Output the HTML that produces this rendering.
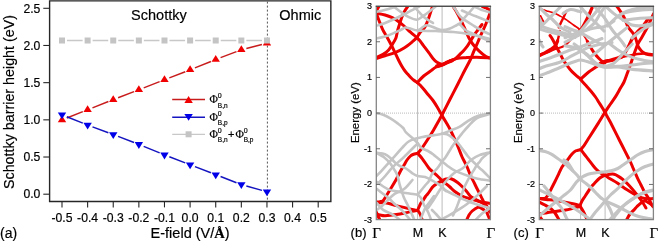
<!DOCTYPE html>
<html><head><meta charset="utf-8"><style>
html,body{margin:0;padding:0;background:#fff;}
body{width:658px;height:241px;overflow:hidden;}
svg{display:block;will-change:transform;}
text{stroke:#000;stroke-width:0.18px;}
</style></head><body>
<svg width="658" height="241" viewBox="0 0 658 241">
<rect width="658" height="241" fill="#fff"/>
<path d="M49.6 0.85H330.85V201.45H49.6Z" fill="none" stroke="#262626" stroke-width="1.4"/>
<line x1="43.3" x2="49.6" y1="194.20" y2="194.20" stroke="#262626" stroke-width="1.1"/>
<text x="40.4" y="198.40" text-anchor="end" font-size="12.2" font-family="Liberation Sans, sans-serif" fill="#000">0.0</text>
<line x1="43.3" x2="49.6" y1="157.02" y2="157.02" stroke="#262626" stroke-width="1.1"/>
<text x="40.4" y="161.22" text-anchor="end" font-size="12.2" font-family="Liberation Sans, sans-serif" fill="#000">0.5</text>
<line x1="43.3" x2="49.6" y1="119.84" y2="119.84" stroke="#262626" stroke-width="1.1"/>
<text x="40.4" y="124.04" text-anchor="end" font-size="12.2" font-family="Liberation Sans, sans-serif" fill="#000">1.0</text>
<line x1="43.3" x2="49.6" y1="82.66" y2="82.66" stroke="#262626" stroke-width="1.1"/>
<text x="40.4" y="86.86" text-anchor="end" font-size="12.2" font-family="Liberation Sans, sans-serif" fill="#000">1.5</text>
<line x1="43.3" x2="49.6" y1="45.48" y2="45.48" stroke="#262626" stroke-width="1.1"/>
<text x="40.4" y="49.68" text-anchor="end" font-size="12.2" font-family="Liberation Sans, sans-serif" fill="#000">2.0</text>
<line x1="43.3" x2="49.6" y1="8.30" y2="8.30" stroke="#262626" stroke-width="1.1"/>
<text x="40.4" y="12.50" text-anchor="end" font-size="12.2" font-family="Liberation Sans, sans-serif" fill="#000">2.5</text>
<line x1="62.00" x2="62.00" y1="201.45" y2="207.4" stroke="#262626" stroke-width="1.1"/>
<text x="62.00" y="222" text-anchor="middle" font-size="12.2" font-family="Liberation Sans, sans-serif" fill="#000">-0.5</text>
<line x1="87.62" x2="87.62" y1="201.45" y2="207.4" stroke="#262626" stroke-width="1.1"/>
<text x="87.62" y="222" text-anchor="middle" font-size="12.2" font-family="Liberation Sans, sans-serif" fill="#000">-0.4</text>
<line x1="113.24" x2="113.24" y1="201.45" y2="207.4" stroke="#262626" stroke-width="1.1"/>
<text x="113.24" y="222" text-anchor="middle" font-size="12.2" font-family="Liberation Sans, sans-serif" fill="#000">-0.3</text>
<line x1="138.86" x2="138.86" y1="201.45" y2="207.4" stroke="#262626" stroke-width="1.1"/>
<text x="138.86" y="222" text-anchor="middle" font-size="12.2" font-family="Liberation Sans, sans-serif" fill="#000">-0.2</text>
<line x1="164.48" x2="164.48" y1="201.45" y2="207.4" stroke="#262626" stroke-width="1.1"/>
<text x="164.48" y="222" text-anchor="middle" font-size="12.2" font-family="Liberation Sans, sans-serif" fill="#000">-0.1</text>
<line x1="190.10" x2="190.10" y1="201.45" y2="207.4" stroke="#262626" stroke-width="1.1"/>
<text x="190.10" y="222" text-anchor="middle" font-size="12.2" font-family="Liberation Sans, sans-serif" fill="#000">0.0</text>
<line x1="215.72" x2="215.72" y1="201.45" y2="207.4" stroke="#262626" stroke-width="1.1"/>
<text x="215.72" y="222" text-anchor="middle" font-size="12.2" font-family="Liberation Sans, sans-serif" fill="#000">0.1</text>
<line x1="241.34" x2="241.34" y1="201.45" y2="207.4" stroke="#262626" stroke-width="1.1"/>
<text x="241.34" y="222" text-anchor="middle" font-size="12.2" font-family="Liberation Sans, sans-serif" fill="#000">0.2</text>
<line x1="266.96" x2="266.96" y1="201.45" y2="207.4" stroke="#262626" stroke-width="1.1"/>
<text x="266.96" y="222" text-anchor="middle" font-size="12.2" font-family="Liberation Sans, sans-serif" fill="#000">0.3</text>
<line x1="292.58" x2="292.58" y1="201.45" y2="207.4" stroke="#262626" stroke-width="1.1"/>
<text x="292.58" y="222" text-anchor="middle" font-size="12.2" font-family="Liberation Sans, sans-serif" fill="#000">0.4</text>
<line x1="318.20" x2="318.20" y1="201.45" y2="207.4" stroke="#262626" stroke-width="1.1"/>
<text x="318.20" y="222" text-anchor="middle" font-size="12.2" font-family="Liberation Sans, sans-serif" fill="#000">0.5</text>
<text transform="translate(13.7 102) rotate(-90)" text-anchor="middle" font-size="14.3" font-family="Liberation Sans, sans-serif" fill="#000">Schottky barrier height (eV)</text>
<text x="190.1" y="237.8" text-anchor="middle" font-size="14.5" font-family="Liberation Sans, sans-serif" fill="#000">E-field (V/<tspan font-family="Liberation Serif, serif" font-weight="bold">Å</tspan>)</text>
<text x="0" y="237.7" font-size="14" font-family="Liberation Sans, sans-serif" fill="#000">(a)</text>
<text x="131.1" y="19.6" font-size="14.5" font-family="Liberation Sans, sans-serif" fill="#000">Schottky</text>
<text x="279.3" y="19.5" font-size="14.5" font-family="Liberation Sans, sans-serif" fill="#000">Ohmic</text>
<line x1="267.4" x2="267.4" y1="1.6" y2="200.5" stroke="#555" stroke-width="1" stroke-dasharray="2 2"/>
<path d="M66.83 117.98L82.79 111.67M92.46 107.84L108.40 101.56M118.09 97.77L134.01 91.58M143.71 87.83L159.63 81.67M169.32 77.91L185.26 71.69M194.92 67.86L210.90 61.44M220.58 57.66L236.48 51.64M246.37 48.48L261.93 44.42" stroke="#c81c1c" stroke-width="1.5" fill="none"/>
<polygon points="62.00,115.40 57.80,122.20 66.20,122.20" fill="#f00000"/>
<polygon points="87.62,105.25 83.42,112.05 91.82,112.05" fill="#f00000"/>
<polygon points="113.24,95.15 109.04,101.95 117.44,101.95" fill="#f00000"/>
<polygon points="138.86,85.20 134.66,92.00 143.06,92.00" fill="#f00000"/>
<polygon points="164.48,75.30 160.28,82.10 168.68,82.10" fill="#f00000"/>
<polygon points="190.10,65.30 185.90,72.10 194.30,72.10" fill="#f00000"/>
<polygon points="215.72,55.00 211.52,61.80 219.92,61.80" fill="#f00000"/>
<polygon points="241.34,45.30 237.14,52.10 245.54,52.10" fill="#f00000"/>
<polygon points="266.96,38.60 262.76,45.40 271.16,45.40" fill="#f00000"/>
<path d="M66.82 116.74L82.80 123.16M92.50 126.89L108.36 132.71M118.09 136.37L134.01 142.53M143.67 146.37L159.67 152.93M169.34 156.76L185.24 162.84M194.94 166.59L210.88 172.81M220.57 176.57L236.49 182.73M246.35 186.01L261.95 190.39" stroke="#1414c0" stroke-width="1.5" fill="none"/>
<polygon points="57.80,112.50 66.20,112.50 62.00,119.30" fill="#0000e8"/>
<polygon points="83.42,122.80 91.82,122.80 87.62,129.60" fill="#0000e8"/>
<polygon points="109.04,132.20 117.44,132.20 113.24,139.00" fill="#0000e8"/>
<polygon points="134.66,142.10 143.06,142.10 138.86,148.90" fill="#0000e8"/>
<polygon points="160.28,152.60 168.68,152.60 164.48,159.40" fill="#0000e8"/>
<polygon points="185.90,162.40 194.30,162.40 190.10,169.20" fill="#0000e8"/>
<polygon points="211.52,172.40 219.92,172.40 215.72,179.20" fill="#0000e8"/>
<polygon points="237.14,182.30 245.54,182.30 241.34,189.10" fill="#0000e8"/>
<polygon points="262.76,189.50 271.16,189.50 266.96,196.30" fill="#0000e8"/>
<path d="M67.00 40.50L82.62 40.50M92.62 40.50L108.24 40.50M118.24 40.50L133.86 40.50M143.86 40.50L159.48 40.50M169.48 40.50L185.10 40.50M195.10 40.50L210.72 40.50M220.72 40.50L236.34 40.50M246.34 40.50L261.96 40.50" stroke="#c8c8c8" stroke-width="1.3" fill="none"/>
<rect x="59.00" y="37.50" width="6" height="6" fill="#c4c4c4"/>
<rect x="84.62" y="37.50" width="6" height="6" fill="#c4c4c4"/>
<rect x="110.24" y="37.50" width="6" height="6" fill="#c4c4c4"/>
<rect x="135.86" y="37.50" width="6" height="6" fill="#c4c4c4"/>
<rect x="161.48" y="37.50" width="6" height="6" fill="#c4c4c4"/>
<rect x="187.10" y="37.50" width="6" height="6" fill="#c4c4c4"/>
<rect x="212.72" y="37.50" width="6" height="6" fill="#c4c4c4"/>
<rect x="238.34" y="37.50" width="6" height="6" fill="#c4c4c4"/>
<rect x="263.96" y="37.50" width="6" height="6" fill="#c4c4c4"/>
<line x1="172.2" x2="205" y1="99.5" y2="99.5" stroke="#c81c1c" stroke-width="1.5"/>
<polygon points="188.60,96.10 184.40,102.90 192.80,102.90" fill="#f00000"/>
<line x1="172.2" x2="205" y1="117.3" y2="117.3" stroke="#1414c0" stroke-width="1.5"/>
<polygon points="184.40,113.90 192.80,113.90 188.60,120.70" fill="#0000e8"/>
<line x1="172.2" x2="205" y1="134.3" y2="134.3" stroke="#c8c8c8" stroke-width="1.3"/>
<rect x="185.6" y="131.3" width="6" height="6" fill="#c4c4c4"/>
<text x="209.6" y="103.1" font-size="11.5" font-family="Liberation Serif, serif" fill="#000">Φ</text><text x="217.79999999999998" y="98.1" font-size="7" font-family="Liberation Sans, sans-serif" fill="#000">0</text><text x="217.79999999999998" y="107.5" font-size="6.5" font-family="Liberation Sans, sans-serif" fill="#000">B,n</text>
<text x="209.6" y="120.9" font-size="11.5" font-family="Liberation Serif, serif" fill="#000">Φ</text><text x="217.79999999999998" y="115.9" font-size="7" font-family="Liberation Sans, sans-serif" fill="#000">0</text><text x="217.79999999999998" y="125.30000000000001" font-size="6.5" font-family="Liberation Sans, sans-serif" fill="#000">B,p</text>
<text x="209.6" y="137.9" font-size="11.5" font-family="Liberation Serif, serif" fill="#000">Φ</text><text x="217.79999999999998" y="132.9" font-size="7" font-family="Liberation Sans, sans-serif" fill="#000">0</text><text x="217.79999999999998" y="142.3" font-size="6.5" font-family="Liberation Sans, sans-serif" fill="#000">B,n</text>
<text x="228" y="137.5" font-size="11" font-family="Liberation Sans, sans-serif" fill="#000">+</text>
<text x="235.5" y="137.9" font-size="11.5" font-family="Liberation Serif, serif" fill="#000">Φ</text><text x="243.7" y="132.9" font-size="7" font-family="Liberation Sans, sans-serif" fill="#000">0</text><text x="243.7" y="142.3" font-size="6.5" font-family="Liberation Sans, sans-serif" fill="#000">B,p</text>
<defs><clipPath id="clipb"><rect x="376" y="6.3" width="114" height="213.29999999999998"/></clipPath></defs>
<line x1="417.6" x2="417.6" y1="6.3" y2="219.6" stroke="#b4b4b4" stroke-width="0.9"/>
<line x1="442.1" x2="442.1" y1="6.3" y2="219.6" stroke="#b4b4b4" stroke-width="0.9"/>
<line x1="376" x2="490" y1="113.1" y2="113.1" stroke="#a8a8a8" stroke-width="0.8" stroke-dasharray="1 1"/>
<g clip-path="url(#clipb)" fill="none" stroke-linecap="round" stroke-linejoin="round"><path d="M376.30 13.10C377.75 13.42 382.33 14.23 385.00 15.00C387.67 15.77 390.18 16.72 392.30 17.70C394.42 18.68 395.83 19.60 397.70 20.90C399.57 22.20 401.37 23.62 403.50 25.50C405.63 27.38 408.42 30.32 410.50 32.20C412.58 34.08 414.47 35.42 416.00 36.80C417.53 38.18 418.48 39.08 419.70 40.50C420.92 41.92 421.78 43.28 423.30 45.30C424.82 47.32 427.12 50.32 428.80 52.60C430.48 54.88 432.03 57.40 433.40 59.00C434.77 60.60 435.55 61.28 437.00 62.20C438.45 63.12 441.25 64.12 442.10 64.50" stroke="#ec0000" stroke-width="3.0"/><path d="M376.50 13.50C376.85 14.50 377.88 17.58 378.60 19.50C379.32 21.42 380.05 23.18 380.80 25.00C381.55 26.82 382.10 28.43 383.10 30.40C384.10 32.37 385.42 34.32 386.80 36.80C388.18 39.28 390.03 42.67 391.40 45.30C392.77 47.93 393.82 50.15 395.00 52.60C396.18 55.05 397.33 57.68 398.50 60.00C399.67 62.32 400.92 64.67 402.00 66.50C403.08 68.33 404.07 69.75 405.00 71.00C405.93 72.25 406.68 72.97 407.60 74.00C408.52 75.03 409.52 76.20 410.50 77.20C411.48 78.20 412.33 79.10 413.50 80.00C414.67 80.90 416.83 82.17 417.50 82.60" stroke="#ec0000" stroke-width="3.0"/><path d="M376.30 57.50C377.43 56.98 381.05 55.67 383.10 54.40C385.15 53.13 387.07 51.57 388.60 49.90C390.13 48.23 391.08 46.38 392.30 44.40C393.52 42.42 395.03 40.23 395.90 38.00C396.77 35.77 396.88 33.33 397.50 31.00C398.12 28.67 398.80 26.52 399.60 24.00C400.40 21.48 401.40 18.15 402.30 15.90C403.20 13.65 404.08 12.10 405.00 10.50C405.92 8.90 407.33 7.00 407.80 6.30" stroke="#ec0000" stroke-width="3.0"/><path d="M376.30 58.50C377.75 58.05 381.88 56.78 385.00 55.80C388.12 54.82 391.82 53.90 395.00 52.60C398.18 51.30 401.20 49.82 404.10 48.00C407.00 46.18 410.27 43.45 412.40 41.70C414.53 39.95 415.68 38.93 416.90 37.50C418.12 36.07 418.33 34.90 419.70 33.10C421.07 31.30 423.63 29.12 425.10 26.70C426.57 24.28 427.28 21.93 428.50 18.60C429.72 15.27 431.75 8.68 432.40 6.70" stroke="#ec0000" stroke-width="3.0"/><path d="M376.50 10.40 L379.50 5.50" stroke="#ec0000" stroke-width="3.0"/><path d="M417.40 82.40C418.45 81.33 421.42 77.97 423.70 76.00C425.98 74.03 429.05 72.10 431.10 70.60C433.15 69.10 434.18 67.93 436.00 67.00C437.82 66.07 439.80 65.93 442.00 65.00C444.20 64.07 446.78 62.47 449.20 61.40C451.62 60.33 453.75 59.22 456.50 58.60C459.25 57.98 462.35 57.93 465.70 57.70C469.05 57.47 472.58 57.17 476.60 57.20C480.62 57.23 487.60 57.78 489.80 57.90" stroke="#ec0000" stroke-width="3.0"/><path d="M437.00 66.20C437.83 65.97 440.33 65.40 442.00 64.80C443.67 64.20 445.33 63.33 447.00 62.60C448.67 61.87 451.17 60.77 452.00 60.40" stroke="#ec0000" stroke-width="3.8"/><path d="M449.20 61.40C450.22 60.97 453.32 60.18 455.30 58.80C457.28 57.42 459.77 54.40 461.10 53.10C462.43 51.80 462.23 52.22 463.30 51.00C464.37 49.78 466.40 47.30 467.50 45.80C468.60 44.30 468.83 43.75 469.90 42.00C470.97 40.25 472.57 37.30 473.90 35.30C475.23 33.30 476.88 31.35 477.90 30.00C478.92 28.65 479.32 28.12 480.00 27.20C480.68 26.28 481.67 24.95 482.00 24.50" stroke="#ec0000" stroke-width="3.0"/><path d="M441.80 115.30C443.17 112.63 447.30 104.57 450.00 99.30C452.70 94.03 455.67 88.28 458.00 83.70C460.33 79.12 461.97 75.75 464.00 71.80C466.03 67.85 468.55 63.43 470.20 60.00C471.85 56.57 472.62 54.20 473.90 51.20C475.18 48.20 476.82 44.53 477.90 42.00C478.98 39.47 479.22 38.67 480.40 36.00C481.58 33.33 483.82 28.67 485.00 26.00C486.18 23.33 486.70 22.08 487.50 20.00C488.30 17.92 489.42 14.58 489.80 13.50" stroke="#ec0000" stroke-width="3.0"/><path d="M453.00 6.30C453.50 7.08 455.05 9.38 456.00 11.00C456.95 12.62 457.78 14.25 458.70 16.00C459.62 17.75 460.63 19.72 461.50 21.50C462.37 23.28 463.07 24.87 463.90 26.70C464.73 28.53 465.62 30.53 466.50 32.50C467.38 34.47 468.10 36.50 469.20 38.50C470.30 40.50 471.43 42.38 473.10 44.50C474.77 46.62 477.07 49.18 479.20 51.20C481.33 53.22 484.13 55.48 485.90 56.60C487.67 57.72 489.15 57.68 489.80 57.90" stroke="#ec0000" stroke-width="3.0"/><path d="M482.50 6.50C483.08 6.75 484.82 7.48 486.00 8.00C487.18 8.52 489.00 9.33 489.60 9.60" stroke="#ec0000" stroke-width="3.0"/><path d="M417.40 82.60C417.92 83.08 419.40 84.35 420.50 85.50C421.60 86.65 422.75 88.00 424.00 89.50C425.25 91.00 426.50 92.67 428.00 94.50C429.50 96.33 431.42 98.33 433.00 100.50C434.58 102.67 436.03 105.03 437.50 107.50C438.97 109.97 441.08 114.00 441.80 115.30" stroke="#ec0000" stroke-width="3.0"/><path d="M441.80 115.30C441.13 116.50 439.17 120.05 437.80 122.50C436.43 124.95 435.37 127.03 433.60 130.00C431.83 132.97 429.18 137.22 427.20 140.30C425.22 143.38 423.27 146.33 421.70 148.50C420.13 150.67 418.45 152.50 417.80 153.30" stroke="#ec0000" stroke-width="3.0"/><path d="M417.80 153.30C417.00 153.50 414.22 154.05 413.00 154.50C411.78 154.95 411.50 155.08 410.50 156.00C409.50 156.92 408.07 158.50 407.00 160.00C405.93 161.50 405.27 163.00 404.10 165.00C402.93 167.00 401.37 169.50 400.00 172.00C398.63 174.50 397.50 177.15 395.90 180.00C394.30 182.85 392.07 186.37 390.40 189.10C388.73 191.83 387.12 194.50 385.90 196.40C384.68 198.30 384.08 199.62 383.10 200.50C382.12 201.38 381.13 201.45 380.00 201.70C378.87 201.95 376.92 201.95 376.30 202.00" stroke="#ec0000" stroke-width="3.0"/><path d="M417.80 153.50C418.57 154.38 420.57 156.38 422.40 158.80C424.23 161.22 427.13 165.88 428.80 168.00C430.47 170.12 430.95 170.17 432.40 171.50C433.85 172.83 435.90 174.48 437.50 176.00C439.10 177.52 441.25 179.83 442.00 180.60" stroke="#ec0000" stroke-width="3.0"/><path d="M442.00 180.60C442.67 180.33 444.48 179.30 446.00 179.00C447.52 178.70 449.17 178.23 451.10 178.80C453.03 179.37 455.77 181.12 457.60 182.40C459.43 183.68 460.58 184.98 462.10 186.50C463.62 188.02 465.17 189.75 466.70 191.50C468.23 193.25 469.47 195.48 471.30 197.00C473.13 198.52 475.73 199.53 477.70 200.60C479.67 201.67 481.58 202.50 483.10 203.40C484.62 204.30 486.18 205.57 486.80 206.00" stroke="#ec0000" stroke-width="3.0"/><path d="M442.00 181.50C442.62 181.83 444.37 182.58 445.70 183.50C447.03 184.42 448.48 185.67 450.00 187.00C451.52 188.33 452.78 190.00 454.80 191.50C456.82 193.00 459.50 194.78 462.10 196.00C464.70 197.22 467.50 197.88 470.40 198.80C473.30 199.72 476.27 200.73 479.50 201.50C482.73 202.27 488.08 203.08 489.80 203.40" stroke="#ec0000" stroke-width="3.0"/><path d="M417.70 210.00C418.00 209.33 418.95 207.20 419.50 206.00C420.05 204.80 420.37 203.78 421.00 202.80C421.63 201.82 422.55 201.15 423.30 200.10C424.05 199.05 424.73 197.57 425.50 196.50C426.27 195.43 426.75 195.23 427.90 193.70C429.05 192.17 431.22 188.75 432.40 187.30C433.58 185.85 433.98 185.80 435.00 185.00C436.02 184.20 437.33 183.17 438.50 182.50C439.67 181.83 441.42 181.25 442.00 181.00" stroke="#ec0000" stroke-width="3.0"/><path d="M441.80 115.30C442.53 116.50 444.77 120.05 446.20 122.50C447.63 124.95 448.97 127.17 450.40 130.00C451.83 132.83 453.45 136.50 454.80 139.50C456.15 142.50 457.28 145.08 458.50 148.00C459.72 150.92 460.73 154.00 462.10 157.00C463.47 160.00 465.32 162.98 466.70 166.00C468.08 169.02 469.18 172.37 470.40 175.10C471.62 177.83 472.95 180.25 474.00 182.40C475.05 184.55 475.63 185.88 476.70 188.00C477.77 190.12 479.02 192.38 480.40 195.10C481.78 197.82 483.78 202.15 485.00 204.30C486.22 206.45 486.90 206.72 487.70 208.00C488.50 209.28 489.45 211.33 489.80 212.00" stroke="#ec0000" stroke-width="3.0"/><path d="M466.70 220.00C467.08 219.17 468.08 216.50 469.00 215.00C469.92 213.50 470.75 212.28 472.20 211.00C473.65 209.72 476.23 207.80 477.70 207.30C479.17 206.80 479.95 207.55 481.00 208.00C482.05 208.45 483.50 209.67 484.00 210.00" stroke="#ec0000" stroke-width="3.0"/><path d="M376.20 203.00C376.83 202.97 378.50 202.83 380.00 202.80C381.50 202.77 382.47 202.33 385.20 202.80C387.93 203.27 392.67 204.67 396.40 205.60C400.13 206.53 404.43 207.65 407.60 208.40C410.77 209.15 413.72 209.75 415.40 210.10C417.08 210.45 417.32 210.43 417.70 210.50" stroke="#ec0000" stroke-width="3.0"/><path d="M376.20 214.00C376.83 214.17 378.50 214.72 380.00 215.00C381.50 215.28 382.47 215.77 385.20 215.70C387.93 215.63 392.67 215.15 396.40 214.60C400.13 214.05 404.43 213.05 407.60 212.40C410.77 211.75 413.72 211.02 415.40 210.70C417.08 210.38 417.32 210.53 417.70 210.50" stroke="#ec0000" stroke-width="3.0"/><path d="M417.70 210.50C417.88 210.72 418.33 211.05 418.80 211.80C419.27 212.55 419.93 213.63 420.50 215.00C421.07 216.37 421.92 219.17 422.20 220.00" stroke="#ec0000" stroke-width="3.0"/><path d="M376.30 212.00C376.58 212.67 377.38 214.67 378.00 216.00C378.62 217.33 379.67 219.33 380.00 220.00" stroke="#ec0000" stroke-width="3.0"/><path d="M487.00 213.00 L489.80 219.50" stroke="#ec0000" stroke-width="3.0"/><path d="M376.70 113.30C377.77 113.53 380.82 113.87 383.10 114.70C385.38 115.53 387.97 116.85 390.40 118.30C392.83 119.75 395.57 121.78 397.70 123.40C399.83 125.02 401.82 126.50 403.20 128.00C404.58 129.50 404.32 130.60 406.00 132.40C407.68 134.20 411.33 136.97 413.30 138.80C415.27 140.63 416.43 141.87 417.80 143.40C419.17 144.93 419.67 146.65 421.50 148.00C423.33 149.35 426.72 150.32 428.80 151.50C430.88 152.68 431.80 153.43 434.00 155.10C436.20 156.77 439.83 159.77 442.00 161.50C444.17 163.23 444.87 163.98 447.00 165.50C449.13 167.02 451.22 168.85 454.80 170.60C458.38 172.35 464.68 174.63 468.50 176.00C472.32 177.37 474.15 178.03 477.70 178.80C481.25 179.57 487.78 180.30 489.80 180.60" stroke="#c4c4c4" stroke-width="2.6"/><path d="M489.80 113.30C487.78 113.75 481.25 114.78 477.70 116.00C474.15 117.22 471.55 118.78 468.50 120.60C465.45 122.42 462.43 125.23 459.40 126.90C456.37 128.57 453.20 129.45 450.30 130.60C447.40 131.75 444.72 133.05 442.00 133.80C439.28 134.55 437.27 134.57 434.00 135.10C430.73 135.63 425.55 136.38 422.40 137.00C419.25 137.62 417.38 138.05 415.10 138.80C412.82 139.55 410.58 140.30 408.70 141.50C406.82 142.70 406.47 143.18 403.80 146.00C401.13 148.82 396.42 154.25 392.70 158.40C388.98 162.55 384.20 167.97 381.50 170.90C378.80 173.83 377.33 175.15 376.50 176.00" stroke="#c4c4c4" stroke-width="2.6"/><path d="M489.80 114.00C487.67 114.67 480.55 116.00 477.00 118.00C473.45 120.00 470.98 123.45 468.50 126.00C466.02 128.55 464.23 130.72 462.10 133.30C459.97 135.88 457.52 139.05 455.70 141.50C453.88 143.95 452.87 145.42 451.20 148.00C449.53 150.58 447.23 154.75 445.70 157.00C444.17 159.25 443.37 159.67 442.00 161.50C440.63 163.33 439.17 165.92 437.50 168.00C435.83 170.08 433.42 171.83 432.00 174.00C430.58 176.17 430.15 179.08 429.00 181.00C427.85 182.92 426.98 183.23 425.10 185.50C423.22 187.77 418.93 193.08 417.70 194.60" stroke="#c4c4c4" stroke-width="2.6"/><path d="M417.70 194.60C416.50 194.45 413.52 194.15 410.50 193.70C407.48 193.25 403.40 192.67 399.60 191.90C395.80 191.13 391.52 190.78 387.70 189.10C383.88 187.42 378.53 183.02 376.70 181.80" stroke="#c4c4c4" stroke-width="2.6"/><path d="M417.80 143.40C417.33 143.83 417.33 143.70 415.00 146.00C412.67 148.30 407.52 153.68 403.80 157.20C400.08 160.72 395.80 163.97 392.70 167.10C389.60 170.23 387.32 173.60 385.20 176.00C383.08 178.40 381.45 180.17 380.00 181.50C378.55 182.83 377.08 183.58 376.50 184.00" stroke="#c4c4c4" stroke-width="2.6"/><path d="M376.70 153.00C377.92 153.70 381.75 155.47 384.00 157.20C386.25 158.93 388.35 161.12 390.20 163.40C392.05 165.68 393.87 168.80 395.10 170.90C396.33 173.00 396.85 173.77 397.60 176.00C398.35 178.23 398.87 181.63 399.60 184.30C400.33 186.97 401.25 189.72 402.00 192.00C402.75 194.28 403.13 195.78 404.10 198.00C405.07 200.22 406.42 202.40 407.80 205.30C409.18 208.20 411.33 213.02 412.40 215.40C413.47 217.78 413.90 218.90 414.20 219.60" stroke="#c4c4c4" stroke-width="2.6"/><path d="M376.70 203.00C377.77 204.15 380.50 208.00 383.10 209.90C385.70 211.80 389.55 212.78 392.30 214.40C395.05 216.02 398.38 218.73 399.60 219.60" stroke="#c4c4c4" stroke-width="2.6"/><path d="M377.00 189.00C377.83 189.67 380.07 191.50 382.00 193.00C383.93 194.50 386.58 196.25 388.60 198.00C390.62 199.75 391.97 201.52 394.10 203.50C396.23 205.48 398.97 207.47 401.40 209.90C403.83 212.33 407.27 216.48 408.70 218.10C410.13 219.72 409.78 219.35 410.00 219.60" stroke="#c4c4c4" stroke-width="2.6"/><path d="M434.00 196.00C433.17 197.17 430.50 200.92 429.00 203.00C427.50 205.08 426.42 205.73 425.00 208.50C423.58 211.27 421.25 217.75 420.50 219.60" stroke="#c4c4c4" stroke-width="2.6"/><path d="M376.70 152.80C378.08 153.03 382.72 153.35 385.00 154.20C387.28 155.05 388.73 156.53 390.40 157.90C392.07 159.27 393.40 161.05 395.00 162.40C396.60 163.75 398.17 164.98 400.00 166.00C401.83 167.02 403.93 167.28 406.00 168.50C408.07 169.72 410.45 172.05 412.40 173.30C414.35 174.55 415.58 175.38 417.70 176.00C419.82 176.62 422.65 176.23 425.10 177.00C427.55 177.77 429.73 179.10 432.40 180.60C435.07 182.10 438.83 184.27 441.10 186.00C443.37 187.73 445.18 190.17 446.00 191.00" stroke="#c4c4c4" stroke-width="2.6"/><path d="M412.40 180.00C411.02 181.52 407.00 186.82 404.10 189.10C401.20 191.38 397.73 191.87 395.00 193.70C392.27 195.53 389.87 198.05 387.70 200.10C385.53 202.15 383.83 204.35 382.00 206.00C380.17 207.65 377.58 209.33 376.70 210.00" stroke="#c4c4c4" stroke-width="2.6"/><path d="M417.70 194.60C418.25 195.17 419.95 196.27 421.00 198.00C422.05 199.73 422.83 202.67 424.00 205.00C425.17 207.33 426.83 209.57 428.00 212.00C429.17 214.43 430.50 218.33 431.00 219.60" stroke="#c4c4c4" stroke-width="2.6"/><path d="M442.00 133.50C442.83 133.63 445.33 133.63 447.00 134.30C448.67 134.97 450.42 136.30 452.00 137.50C453.58 138.70 455.12 140.08 456.50 141.50C457.88 142.92 458.30 143.42 460.30 146.00C462.30 148.58 465.92 153.95 468.50 157.00C471.08 160.05 473.97 162.47 475.80 164.30C477.63 166.13 478.13 166.72 479.50 168.00C480.87 169.28 482.28 170.33 484.00 172.00C485.72 173.67 488.83 177.00 489.80 178.00" stroke="#c4c4c4" stroke-width="2.6"/><path d="M489.50 152.40C487.83 152.85 482.53 153.88 479.50 155.10C476.47 156.32 474.05 157.55 471.30 159.70C468.55 161.85 465.90 165.73 463.00 168.00C460.10 170.27 456.78 171.05 453.90 173.30C451.02 175.55 447.83 179.05 445.70 181.50C443.57 183.95 442.72 185.58 441.10 188.00C439.48 190.42 437.52 193.60 436.00 196.00C434.48 198.40 433.33 200.40 432.00 202.40C430.67 204.40 428.67 207.07 428.00 208.00" stroke="#c4c4c4" stroke-width="2.6"/><path d="M489.80 152.50C489.17 152.92 487.28 154.02 486.00 155.00C484.72 155.98 483.18 157.23 482.10 158.40C481.02 159.57 480.33 160.95 479.50 162.00C478.67 163.05 478.12 163.22 477.10 164.70C476.08 166.18 474.83 168.55 473.40 170.90C471.97 173.25 470.07 175.95 468.50 178.80C466.93 181.65 465.07 185.58 464.00 188.00C462.93 190.42 462.87 191.30 462.10 193.30C461.33 195.30 460.30 197.67 459.40 200.00C458.50 202.33 457.77 204.72 456.70 207.30C455.63 209.88 453.62 214.13 453.00 215.50" stroke="#c4c4c4" stroke-width="2.6"/><path d="M443.90 189.70C445.72 190.60 450.70 193.13 454.80 195.10C458.90 197.07 463.93 199.67 468.50 201.50C473.07 203.33 478.65 205.02 482.20 206.10C485.75 207.18 488.53 207.68 489.80 208.00" stroke="#c4c4c4" stroke-width="2.6"/><path d="M486.80 186.00C485.28 187.52 481.05 192.05 477.70 195.10C474.35 198.15 469.75 201.97 466.70 204.30C463.65 206.63 462.13 207.38 459.40 209.10C456.67 210.82 453.35 212.85 450.30 214.60C447.25 216.35 442.63 218.77 441.10 219.60" stroke="#c4c4c4" stroke-width="2.6"/><path d="M432.00 210.00C432.67 210.67 434.48 212.40 436.00 214.00C437.52 215.60 440.25 218.67 441.10 219.60" stroke="#c4c4c4" stroke-width="2.6"/><path d="M489.80 208.20C488.68 208.97 485.43 210.90 483.10 212.80C480.77 214.70 477.02 218.47 475.80 219.60" stroke="#c4c4c4" stroke-width="2.6"/><path d="M376.30 11.90C377.67 11.60 381.68 10.83 384.50 10.10C387.32 9.37 391.28 8.10 393.20 7.50C395.12 6.90 395.53 6.67 396.00 6.50" stroke="#c4c4c4" stroke-width="2.6"/><path d="M376.30 25.80C377.67 25.37 381.40 24.37 384.50 23.20C387.60 22.03 391.42 20.40 394.90 18.80C398.38 17.20 402.20 15.20 405.40 13.60C408.60 12.00 411.77 10.42 414.10 9.20C416.43 7.98 418.52 6.78 419.40 6.30" stroke="#c4c4c4" stroke-width="2.6"/><path d="M393.20 6.30C394.65 7.37 399.28 10.90 401.90 12.70C404.52 14.50 406.42 15.93 408.90 17.10C411.38 18.27 414.47 19.85 416.80 19.70C419.13 19.55 420.70 17.65 422.90 16.20C425.10 14.75 427.82 12.65 430.00 11.00C432.18 9.35 435.00 7.08 436.00 6.30" stroke="#c4c4c4" stroke-width="2.6"/><path d="M414.10 6.30C414.75 7.08 416.53 9.35 418.00 11.00C419.47 12.65 421.23 14.70 422.90 16.20C424.57 17.70 426.32 18.87 428.00 20.00C429.68 21.13 432.17 22.50 433.00 23.00" stroke="#c4c4c4" stroke-width="2.6"/><path d="M376.30 38.60C378.25 38.07 384.02 36.80 388.00 35.40C391.98 34.00 397.30 31.52 400.20 30.20C403.10 28.88 403.60 27.73 405.40 27.50C407.20 27.27 408.97 28.30 411.00 28.80C413.03 29.30 414.43 30.13 417.60 30.50C420.77 30.87 426.93 30.92 430.00 31.00C433.07 31.08 432.08 30.83 436.00 31.00C439.92 31.17 447.68 31.42 453.50 32.00C459.32 32.58 464.82 33.33 470.90 34.50C476.98 35.67 486.82 38.25 490.00 39.00" stroke="#c4c4c4" stroke-width="2.6"/><path d="M417.60 30.40C418.17 30.10 419.67 29.43 421.00 28.60C422.33 27.77 424.08 25.85 425.60 25.40C427.12 24.95 428.28 25.37 430.10 25.90C431.92 26.43 434.52 27.92 436.50 28.60C438.48 29.28 439.75 30.03 442.00 30.00C444.25 29.97 447.50 29.23 450.00 28.40C452.50 27.57 455.40 25.70 457.00 25.00C458.60 24.30 458.15 23.33 459.60 24.20C461.05 25.07 463.23 28.48 465.70 30.20C468.17 31.92 470.62 32.77 474.40 34.50C478.18 36.23 485.80 39.52 488.40 40.60C491.00 41.68 489.73 40.93 490.00 41.00" stroke="#c4c4c4" stroke-width="2.6"/><path d="M459.60 24.20C460.17 23.42 461.70 21.12 463.00 19.50C464.30 17.88 466.07 16.00 467.40 14.50C468.73 13.00 469.83 11.87 471.00 10.50C472.17 9.13 473.83 7.00 474.40 6.30" stroke="#c4c4c4" stroke-width="2.6"/><path d="M452.60 5.80C453.08 6.42 454.48 8.05 455.50 9.50C456.52 10.95 457.62 13.08 458.70 14.50C459.78 15.92 460.83 16.98 462.00 18.00C463.17 19.02 463.93 19.43 465.70 20.60C467.47 21.77 470.22 23.52 472.60 25.00C474.98 26.48 477.37 28.05 480.00 29.50C482.63 30.95 486.73 32.90 488.40 33.70C490.07 34.50 489.73 34.20 490.00 34.30" stroke="#c4c4c4" stroke-width="2.6"/><path d="M462.00 10.50C462.98 10.93 465.40 12.05 467.90 13.10C470.40 14.15 473.97 15.58 477.00 16.80C480.03 18.02 483.93 19.53 486.10 20.40C488.27 21.27 489.35 21.73 490.00 22.00" stroke="#c4c4c4" stroke-width="2.6"/><path d="M474.00 6.50C475.52 7.15 480.43 9.45 483.10 10.40C485.77 11.35 488.85 11.90 490.00 12.20" stroke="#c4c4c4" stroke-width="2.6"/></g>
<rect x="376.3" y="6.3" width="114.1" height="213.29999999999998" fill="none" stroke="#858585" stroke-width="1.3"/>
<line x1="375.7" x2="491.1" y1="6.3" y2="6.3" stroke="#3a3a3a" stroke-width="1.1"/>
<text x="372" y="223.11" text-anchor="end" font-size="9" font-family="Liberation Sans, sans-serif" fill="#000">-3</text>
<line x1="376" x2="380" y1="184.44" y2="184.44" stroke="#606060" stroke-width="0.9"/>
<line x1="486" x2="490" y1="184.44" y2="184.44" stroke="#606060" stroke-width="0.9"/>
<text x="372" y="187.44" text-anchor="end" font-size="9" font-family="Liberation Sans, sans-serif" fill="#000">-2</text>
<line x1="376" x2="380" y1="148.77" y2="148.77" stroke="#606060" stroke-width="0.9"/>
<line x1="486" x2="490" y1="148.77" y2="148.77" stroke="#606060" stroke-width="0.9"/>
<text x="372" y="151.77" text-anchor="end" font-size="9" font-family="Liberation Sans, sans-serif" fill="#000">-1</text>
<line x1="376" x2="380" y1="113.10" y2="113.10" stroke="#606060" stroke-width="0.9"/>
<line x1="486" x2="490" y1="113.10" y2="113.10" stroke="#606060" stroke-width="0.9"/>
<text x="372" y="116.10" text-anchor="end" font-size="9" font-family="Liberation Sans, sans-serif" fill="#000">0</text>
<line x1="376" x2="380" y1="77.43" y2="77.43" stroke="#606060" stroke-width="0.9"/>
<line x1="486" x2="490" y1="77.43" y2="77.43" stroke="#606060" stroke-width="0.9"/>
<text x="372" y="80.43" text-anchor="end" font-size="9" font-family="Liberation Sans, sans-serif" fill="#000">1</text>
<line x1="376" x2="380" y1="41.76" y2="41.76" stroke="#606060" stroke-width="0.9"/>
<line x1="486" x2="490" y1="41.76" y2="41.76" stroke="#606060" stroke-width="0.9"/>
<text x="372" y="44.76" text-anchor="end" font-size="9" font-family="Liberation Sans, sans-serif" fill="#000">2</text>
<text x="372" y="9.09" text-anchor="end" font-size="9" font-family="Liberation Sans, sans-serif" fill="#000">3</text>
<text transform="translate(359.0 112.7) rotate(-90)" text-anchor="middle" font-size="11.4" font-family="Liberation Sans, sans-serif" fill="#000">Energy (eV)</text>
<text x="350.6" y="236.8" font-size="13" font-family="Liberation Sans, sans-serif" fill="#000">(b)</text>
<text x="376.6" y="237.6" text-anchor="middle" font-size="15" font-family="Liberation Serif, serif" fill="#000">Γ</text>
<text x="418.0" y="236.6" text-anchor="middle" font-size="12.5" font-family="Liberation Sans, sans-serif" fill="#000">M</text>
<text x="442.5" y="236.6" text-anchor="middle" font-size="12.5" font-family="Liberation Sans, sans-serif" fill="#000">K</text>
<text x="490.8" y="237.6" text-anchor="middle" font-size="15" font-family="Liberation Serif, serif" fill="#000">Γ</text>
<defs><clipPath id="clipc"><rect x="539" y="6.3" width="114" height="213.29999999999998"/></clipPath></defs>
<line x1="580.6" x2="580.6" y1="6.3" y2="219.6" stroke="#b4b4b4" stroke-width="0.9"/>
<line x1="605.1" x2="605.1" y1="6.3" y2="219.6" stroke="#b4b4b4" stroke-width="0.9"/>
<line x1="539" x2="653" y1="113.1" y2="113.1" stroke="#a8a8a8" stroke-width="0.8" stroke-dasharray="1 1"/>
<g clip-path="url(#clipc)" fill="none" stroke-linecap="round" stroke-linejoin="round"><path d="M539.30 55.50C540.13 55.13 542.40 54.30 544.30 53.30C546.20 52.30 548.87 50.75 550.70 49.50C552.53 48.25 554.17 47.22 555.30 45.80C556.43 44.38 557.13 41.80 557.50 41.00" stroke="#ec0000" stroke-width="3.4"/><path d="M555.30 45.80C555.67 45.00 556.88 42.80 557.50 41.00C558.12 39.20 558.62 36.67 559.00 35.00C559.38 33.33 559.67 31.67 559.80 31.00" stroke="#ec0000" stroke-width="2.4"/><path d="M558.80 27.50C559.28 26.42 560.77 23.00 561.70 21.00C562.63 19.00 563.60 17.17 564.40 15.50C565.20 13.83 566.15 11.75 566.50 11.00" stroke="#ec0000" stroke-width="2.4"/><path d="M540.50 16.00C540.83 16.67 541.83 18.83 542.50 20.00C543.17 21.17 544.17 22.50 544.50 23.00" stroke="#ec0000" stroke-width="2"/><path d="M550.00 35.50C550.27 35.87 550.93 36.62 551.60 37.70C552.27 38.78 553.18 40.45 554.00 42.00C554.82 43.55 555.53 45.15 556.50 47.00C557.47 48.85 558.63 50.87 559.80 53.10C560.97 55.33 562.22 58.25 563.50 60.40C564.78 62.55 566.25 64.32 567.50 66.00C568.75 67.68 569.80 69.15 571.00 70.50C572.20 71.85 573.53 73.02 574.70 74.10C575.87 75.18 576.97 76.18 578.00 77.00C579.03 77.82 580.42 78.67 580.90 79.00" stroke="#ec0000" stroke-width="3.0"/><path d="M539.30 54.50C540.75 54.12 545.33 53.12 548.00 52.20C550.67 51.28 553.02 49.87 555.30 49.00C557.58 48.13 559.92 47.75 561.70 47.00C563.48 46.25 564.33 45.92 566.00 44.50C567.67 43.08 569.83 40.40 571.70 38.50C573.57 36.60 576.28 34.00 577.20 33.10" stroke="#ec0000" stroke-width="2.2"/><path d="M579.00 31.00C579.45 30.58 580.63 30.00 581.70 28.50C582.77 27.00 584.33 23.95 585.40 22.00C586.47 20.05 587.25 18.55 588.10 16.80C588.95 15.05 589.85 12.97 590.50 11.50C591.15 10.03 591.75 8.58 592.00 8.00" stroke="#ec0000" stroke-width="3.2"/><path d="M539.30 8.00C539.83 8.25 541.05 8.95 542.50 9.50C543.95 10.05 545.87 10.63 548.00 11.30C550.13 11.97 553.30 12.72 555.30 13.50C557.30 14.28 558.48 15.17 560.00 16.00C561.52 16.83 563.07 17.67 564.40 18.50C565.73 19.33 566.48 19.92 568.00 21.00C569.52 22.08 571.52 23.58 573.50 25.00C575.48 26.42 578.23 27.83 579.90 29.50C581.57 31.17 582.28 33.08 583.50 35.00C584.72 36.92 586.58 40.00 587.20 41.00" stroke="#ec0000" stroke-width="1.6"/><path d="M587.20 41.00C587.83 42.17 589.70 45.83 591.00 48.00C592.30 50.17 593.67 52.25 595.00 54.00C596.33 55.75 597.78 57.27 599.00 58.50C600.22 59.73 601.30 60.73 602.30 61.40C603.30 62.07 604.55 62.32 605.00 62.50" stroke="#ec0000" stroke-width="3"/><path d="M580.90 79.00C581.95 78.03 584.65 75.22 587.20 73.20C589.75 71.18 593.90 68.43 596.20 66.90C598.50 65.37 599.53 64.73 601.00 64.00C602.47 63.27 604.33 62.75 605.00 62.50" stroke="#ec0000" stroke-width="3.0"/><path d="M600.00 64.00C600.83 63.58 603.33 62.08 605.00 61.50C606.67 60.92 608.35 60.90 610.00 60.50C611.65 60.10 613.40 59.55 614.90 59.10C616.40 58.65 617.62 58.32 619.00 57.80C620.38 57.28 622.50 56.30 623.20 56.00" stroke="#ec0000" stroke-width="3.8"/><path d="M621.00 56.60C621.68 56.55 623.35 56.52 625.10 56.30C626.85 56.08 629.45 55.68 631.50 55.30C633.55 54.92 635.18 54.30 637.40 54.00C639.62 53.70 642.20 53.42 644.80 53.50C647.40 53.58 651.63 54.33 653.00 54.50" stroke="#ec0000" stroke-width="2.6"/><path d="M619.00 57.80C619.70 57.50 622.12 56.97 623.20 56.00C624.28 55.03 624.70 53.42 625.50 52.00C626.30 50.58 627.00 49.50 628.00 47.50C629.00 45.50 630.60 41.78 631.50 40.00C632.40 38.22 632.48 38.10 633.40 36.80C634.32 35.50 635.48 33.88 637.00 32.20C638.52 30.52 641.00 28.40 642.50 26.70C644.00 25.00 645.08 23.28 646.00 22.00C646.92 20.72 647.67 19.50 648.00 19.00" stroke="#ec0000" stroke-width="3.2"/><path d="M604.90 112.30C605.83 110.92 608.67 106.70 610.50 104.00C612.33 101.30 614.23 98.77 615.90 96.10C617.57 93.43 619.15 90.35 620.50 88.00C621.85 85.65 622.92 84.33 624.00 82.00C625.08 79.67 625.95 76.82 627.00 74.00C628.05 71.18 629.30 67.93 630.30 65.10C631.30 62.27 632.13 59.52 633.00 57.00C633.87 54.48 634.68 52.17 635.50 50.00C636.32 47.83 636.88 46.05 637.90 44.00C638.92 41.95 640.38 39.82 641.60 37.70C642.82 35.58 644.05 33.42 645.20 31.30C646.35 29.18 647.43 27.22 648.50 25.00C649.57 22.78 650.78 19.83 651.60 18.00C652.42 16.17 653.10 14.67 653.40 14.00" stroke="#ec0000" stroke-width="3.0"/><path d="M616.90 6.30C617.67 7.43 620.13 10.90 621.50 13.10C622.87 15.30 624.03 17.23 625.10 19.50C626.17 21.77 626.83 24.73 627.90 26.70C628.97 28.67 630.43 29.92 631.50 31.30C632.57 32.68 633.47 33.38 634.30 35.00C635.13 36.62 635.90 39.17 636.50 41.00C637.10 42.83 637.15 44.42 637.90 46.00C638.65 47.58 639.93 49.32 641.00 50.50C642.07 51.68 643.13 52.43 644.30 53.10C645.47 53.77 646.55 54.18 648.00 54.50C649.45 54.82 652.17 54.92 653.00 55.00" stroke="#ec0000" stroke-width="3.0"/><path d="M649.80 6.50 L653.40 7.70" stroke="#ec0000" stroke-width="3.0"/><path d="M580.50 79.50C581.33 80.42 583.75 83.05 585.50 85.00C587.25 86.95 589.33 89.20 591.00 91.20C592.67 93.20 594.17 95.12 595.50 97.00C596.83 98.88 597.87 100.70 599.00 102.50C600.13 104.30 601.32 106.17 602.30 107.80C603.28 109.43 604.47 111.55 604.90 112.30" stroke="#ec0000" stroke-width="3.0"/><path d="M604.90 112.30C603.92 113.92 600.92 118.90 599.00 122.00C597.08 125.10 595.07 128.27 593.40 130.90C591.73 133.53 590.45 135.52 589.00 137.80C587.55 140.08 586.05 142.65 584.70 144.60C583.35 146.55 581.53 148.68 580.90 149.50" stroke="#ec0000" stroke-width="3.0"/><path d="M580.90 149.50C580.42 149.63 578.82 150.08 578.00 150.30C577.18 150.52 576.92 150.27 576.00 150.80C575.08 151.33 573.55 152.47 572.50 153.50C571.45 154.53 570.78 155.58 569.70 157.00C568.62 158.42 567.28 160.33 566.00 162.00C564.72 163.67 563.25 164.95 562.00 167.00C560.75 169.05 559.67 171.88 558.50 174.30C557.33 176.72 556.20 179.10 555.00 181.50C553.80 183.90 552.47 186.45 551.30 188.70C550.13 190.95 548.88 193.53 548.00 195.00C547.12 196.47 546.63 196.92 546.00 197.50C545.37 198.08 545.33 198.33 544.20 198.50C543.07 198.67 540.03 198.50 539.20 198.50" stroke="#ec0000" stroke-width="3.0"/><path d="M580.90 149.70C581.50 150.50 583.25 152.87 584.50 154.50C585.75 156.13 586.92 157.58 588.40 159.50C589.88 161.42 592.05 164.33 593.40 166.00C594.75 167.67 595.40 168.42 596.50 169.50C597.60 170.58 598.85 171.67 600.00 172.50C601.15 173.33 602.55 174.05 603.40 174.50C604.25 174.95 604.82 175.08 605.10 175.20" stroke="#ec0000" stroke-width="3.0"/><path d="M604.90 112.30C605.75 113.83 608.00 117.68 610.00 121.50C612.00 125.32 614.90 131.23 616.90 135.20C618.90 139.17 620.05 141.47 622.00 145.30C623.95 149.13 627.18 155.42 628.60 158.20C630.02 160.98 629.68 160.20 630.50 162.00C631.32 163.80 632.35 166.35 633.50 169.00C634.65 171.65 636.15 175.23 637.40 177.90C638.65 180.57 639.80 182.60 641.00 185.00C642.20 187.40 643.40 190.18 644.60 192.30C645.80 194.42 647.00 195.63 648.20 197.70C649.40 199.77 650.93 203.15 651.80 204.70C652.67 206.25 653.13 206.62 653.40 207.00" stroke="#ec0000" stroke-width="3.0"/><path d="M605.10 175.20C605.70 175.65 606.60 176.55 608.70 177.90C610.80 179.25 614.70 181.35 617.70 183.30C620.70 185.25 623.42 187.50 626.70 189.60C629.98 191.70 634.42 194.40 637.40 195.90C640.38 197.40 642.00 198.15 644.60 198.60C647.20 199.05 651.60 198.60 653.00 198.60" stroke="#ec0000" stroke-width="3.0"/><path d="M605.10 175.20C606.60 175.05 611.10 173.55 614.10 174.30C617.10 175.05 620.12 177.30 623.10 179.70C626.08 182.10 629.32 185.70 632.00 188.70C634.68 191.70 637.37 195.32 639.20 197.70C641.03 200.08 641.87 201.28 643.00 203.00C644.13 204.72 645.50 207.17 646.00 208.00" stroke="#ec0000" stroke-width="3.0"/><path d="M580.00 205.60C580.33 204.83 581.10 202.63 582.00 201.00C582.90 199.37 583.93 198.05 585.40 195.80C586.87 193.55 589.30 189.55 590.80 187.50C592.30 185.45 592.90 185.08 594.40 183.50C595.90 181.92 598.02 179.38 599.80 178.00C601.58 176.62 604.22 175.67 605.10 175.20" stroke="#ec0000" stroke-width="3.0"/><path d="M539.20 198.50C540.33 198.67 543.38 199.22 546.00 199.50C548.62 199.78 551.90 199.78 554.90 200.20C557.90 200.62 561.00 201.40 564.00 202.00C567.00 202.60 570.23 203.20 572.90 203.80C575.57 204.40 578.82 205.30 580.00 205.60" stroke="#ec0000" stroke-width="3.0"/><path d="M539.20 214.00C540.17 213.83 542.98 213.35 545.00 213.00C547.02 212.65 547.85 212.38 551.30 211.90C554.75 211.42 562.25 210.67 565.70 210.10C569.15 209.53 569.62 209.10 572.00 208.50C574.38 207.90 578.67 206.83 580.00 206.50" stroke="#ec0000" stroke-width="3.0"/><path d="M580.00 206.00C580.60 206.98 582.68 210.23 583.60 211.90C584.52 213.57 584.90 214.65 585.50 216.00C586.10 217.35 586.92 219.33 587.20 220.00" stroke="#ec0000" stroke-width="3.0"/><path d="M539.20 202.00C540.17 202.50 542.98 203.83 545.00 205.00C547.02 206.17 549.63 207.67 551.30 209.00C552.97 210.33 553.72 211.23 555.00 213.00C556.28 214.77 558.33 218.50 559.00 219.60" stroke="#ec0000" stroke-width="3.0"/><path d="M626.70 219.60C627.25 218.67 628.82 215.58 630.00 214.00C631.18 212.42 632.63 211.35 633.80 210.10C634.97 208.85 635.80 207.70 637.00 206.50C638.20 205.30 639.67 203.82 641.00 202.90C642.33 201.98 643.67 200.98 645.00 201.00C646.33 201.02 647.67 202.17 649.00 203.00C650.33 203.83 652.33 205.50 653.00 206.00" stroke="#ec0000" stroke-width="3.0"/><path d="M539.20 216.00 L542.00 219.60" stroke="#ec0000" stroke-width="3.0"/><path d="M539.20 150.50C540.17 150.67 542.98 150.90 545.00 151.50C547.02 152.10 549.30 153.02 551.30 154.10C553.30 155.18 554.90 156.52 557.00 158.00C559.10 159.48 562.07 161.58 563.90 163.00C565.73 164.42 566.50 165.20 568.00 166.50C569.50 167.80 571.40 169.38 572.90 170.80C574.40 172.22 575.67 173.52 577.00 175.00C578.33 176.48 579.40 178.28 580.90 179.70C582.40 181.12 584.35 182.20 586.00 183.50C587.65 184.80 589.13 185.92 590.80 187.50C592.47 189.08 594.38 191.33 596.00 193.00C597.62 194.67 598.98 196.13 600.50 197.50C602.02 198.87 603.52 199.28 605.10 201.20C606.68 203.12 608.52 205.93 610.00 209.00C611.48 212.07 613.33 217.83 614.00 219.60" stroke="#c4c4c4" stroke-width="3.1"/><path d="M653.40 149.60C652.00 149.92 647.67 150.60 645.00 151.50C642.33 152.40 639.85 153.58 637.40 155.00C634.95 156.42 632.70 158.33 630.30 160.00C627.90 161.67 625.10 163.58 623.00 165.00C620.90 166.42 619.70 167.53 617.70 168.50C615.70 169.47 613.10 170.27 611.00 170.80C608.90 171.33 607.27 171.42 605.10 171.70C602.93 171.98 600.38 172.20 598.00 172.50C595.62 172.80 592.97 173.00 590.80 173.50C588.63 174.00 586.65 174.77 585.00 175.50C583.35 176.23 582.32 176.82 580.90 177.90C579.48 178.98 578.23 179.98 576.50 182.00C574.77 184.02 572.80 187.60 570.50 190.00C568.20 192.40 566.13 193.62 562.70 196.40C559.27 199.18 553.78 203.48 549.90 206.70C546.02 209.92 541.15 214.20 539.40 215.70" stroke="#c4c4c4" stroke-width="3.1"/><path d="M539.40 190.00C541.15 190.85 546.02 193.17 549.90 195.10C553.78 197.03 558.42 199.23 562.70 201.60C566.98 203.97 571.30 206.52 575.60 209.30C579.90 212.08 586.10 216.58 588.50 218.30C590.90 220.02 589.75 219.38 590.00 219.60" stroke="#c4c4c4" stroke-width="3.1"/><path d="M605.10 201.10C607.20 202.00 612.62 204.10 617.70 206.50C622.78 208.90 629.92 213.40 635.60 215.50C641.28 217.60 649.10 218.50 651.80 219.10" stroke="#c4c4c4" stroke-width="3.1"/><path d="M605.10 201.10C606.08 200.00 608.90 196.57 611.00 194.50C613.10 192.43 615.53 190.78 617.70 188.70C619.87 186.62 621.90 184.10 624.00 182.00C626.10 179.90 628.07 177.97 630.30 176.10C632.53 174.23 635.12 172.32 637.40 170.80C639.68 169.28 641.33 168.13 644.00 167.00C646.67 165.87 651.83 164.50 653.40 164.00" stroke="#c4c4c4" stroke-width="3.1"/><path d="M612.30 219.60C613.42 218.17 616.60 213.78 619.00 211.00C621.40 208.22 623.63 205.43 626.70 202.90C629.77 200.37 634.35 197.53 637.40 195.80C640.45 194.07 642.33 193.40 645.00 192.50C647.67 191.60 652.00 190.75 653.40 190.40" stroke="#c4c4c4" stroke-width="3.1"/><path d="M653.40 190.00C652.00 190.33 647.67 191.00 645.00 192.00C642.33 193.00 639.90 194.50 637.40 196.00C634.90 197.50 632.57 199.17 630.00 201.00C627.43 202.83 624.50 204.83 622.00 207.00C619.50 209.17 617.00 211.90 615.00 214.00C613.00 216.10 610.83 218.67 610.00 219.60" stroke="#c4c4c4" stroke-width="3.1"/><path d="M605.10 201.10C604.25 202.08 601.85 204.85 600.00 207.00C598.15 209.15 595.67 211.90 594.00 214.00C592.33 216.10 590.67 218.67 590.00 219.60" stroke="#c4c4c4" stroke-width="3.1"/><path d="M544.00 186.00C544.55 186.67 545.97 188.33 547.30 190.00C548.63 191.67 550.55 194.08 552.00 196.00C553.45 197.92 554.42 199.50 556.00 201.50C557.58 203.50 559.73 205.20 561.50 208.00C563.27 210.80 565.60 216.37 566.60 218.30C567.60 220.23 567.35 219.38 567.50 219.60" stroke="#c4c4c4" stroke-width="3.1"/><path d="M563.90 160.00C564.58 160.50 566.50 161.20 568.00 163.00C569.50 164.80 572.08 169.50 572.90 170.80" stroke="#c4c4c4" stroke-width="3.1"/><path d="M539.20 61.40C541.12 60.78 546.80 59.08 550.70 57.70C554.60 56.32 559.10 54.47 562.60 53.10C566.10 51.73 568.68 50.57 571.70 49.50C574.72 48.43 577.98 47.62 580.70 46.70C583.42 45.78 585.28 45.03 588.00 44.00C590.72 42.97 594.67 41.42 597.00 40.50C599.33 39.58 601.17 38.83 602.00 38.50" stroke="#c4c4c4" stroke-width="3.1"/><path d="M539.20 68.70C540.35 68.25 542.67 67.07 546.10 66.00C549.53 64.93 555.53 63.98 559.80 62.30C564.07 60.62 568.25 57.73 571.70 55.90C575.15 54.07 577.82 52.68 580.50 51.30C583.18 49.92 585.05 48.67 587.80 47.60C590.55 46.53 594.13 45.58 597.00 44.90C599.87 44.22 602.50 43.90 605.00 43.50C607.50 43.10 610.83 42.67 612.00 42.50" stroke="#c4c4c4" stroke-width="3.1"/><path d="M539.20 75.90C540.67 75.33 544.87 73.73 548.00 72.50C551.13 71.27 554.67 69.92 558.00 68.50C561.33 67.08 565.17 65.17 568.00 64.00C570.83 62.83 572.88 62.17 575.00 61.50C577.12 60.83 578.20 59.83 580.70 60.00C583.20 60.17 586.78 61.50 590.00 62.50C593.22 63.50 597.50 65.23 600.00 66.00C602.50 66.77 602.10 67.03 605.00 67.10C607.90 67.17 612.85 66.77 617.40 66.40C621.95 66.03 627.87 65.38 632.30 64.90C636.73 64.42 640.48 63.82 644.00 63.50C647.52 63.18 651.83 63.08 653.40 63.00" stroke="#c4c4c4" stroke-width="3.1"/><path d="M605.00 67.10C607.07 67.08 612.85 66.62 617.40 67.00C621.95 67.38 626.30 68.75 632.30 69.40C638.30 70.05 649.88 70.65 653.40 70.90" stroke="#c4c4c4" stroke-width="3.1"/><path d="M565.00 45.80C566.52 46.10 571.52 46.83 574.10 47.60C576.68 48.37 578.22 49.17 580.50 50.40C582.78 51.63 585.38 52.90 587.80 55.00C590.22 57.10 592.13 61.13 595.00 63.00C597.87 64.87 602.17 65.60 605.00 66.20C607.83 66.80 610.83 66.53 612.00 66.60" stroke="#c4c4c4" stroke-width="3.1"/><path d="M574.10 44.00C575.17 44.83 578.22 47.02 580.50 49.00C582.78 50.98 585.05 53.40 587.80 55.90C590.55 58.40 594.13 62.15 597.00 64.00C599.87 65.85 603.67 66.50 605.00 67.00" stroke="#c4c4c4" stroke-width="3.1"/><path d="M610.00 44.00C611.73 45.25 616.68 49.27 620.40 51.50C624.12 53.73 628.32 55.92 632.30 57.40C636.28 58.88 640.78 59.65 644.30 60.40C647.82 61.15 651.88 61.65 653.40 61.90" stroke="#c4c4c4" stroke-width="3.1"/><path d="M632.30 44.00C631.42 44.92 628.65 47.82 627.00 49.50C625.35 51.18 623.98 52.35 622.40 54.10C620.82 55.85 619.23 58.27 617.50 60.00C615.77 61.73 614.08 63.42 612.00 64.50C609.92 65.58 606.17 66.17 605.00 66.50" stroke="#c4c4c4" stroke-width="3.1"/><path d="M539.70 7.60C540.77 8.67 543.97 12.02 546.10 14.00C548.23 15.98 550.37 17.50 552.50 19.50C554.63 21.50 556.82 24.25 558.90 26.00C560.98 27.75 563.15 29.00 565.00 30.00C566.85 31.00 569.17 31.67 570.00 32.00" stroke="#c4c4c4" stroke-width="3.1"/><path d="M560.70 6.70C559.78 7.62 557.17 10.22 555.20 12.20C553.23 14.18 551.02 16.47 548.90 18.60C546.78 20.73 544.10 23.43 542.50 25.00C540.90 26.57 539.83 27.50 539.30 28.00" stroke="#c4c4c4" stroke-width="3.1"/><path d="M539.30 18.00C539.58 18.67 540.55 20.67 541.00 22.00C541.45 23.33 541.83 25.33 542.00 26.00" stroke="#c4c4c4" stroke-width="3.1"/><path d="M539.70 25.80C541.53 26.42 546.15 28.13 550.70 29.50C555.25 30.87 563.12 33.17 567.00 34.00C570.88 34.83 571.67 34.67 574.00 34.50C576.33 34.33 579.83 33.25 581.00 33.00" stroke="#c4c4c4" stroke-width="3.1"/><path d="M539.70 29.00C541.75 29.58 547.45 31.33 552.00 32.50C556.55 33.67 563.17 35.17 567.00 36.00C570.83 36.83 573.67 37.25 575.00 37.50" stroke="#c4c4c4" stroke-width="3.1"/><path d="M563.00 13.50C564.25 12.83 567.88 9.87 570.50 9.50C573.12 9.13 576.95 10.88 578.70 11.30C580.45 11.72 580.62 11.88 581.00 12.00" stroke="#c4c4c4" stroke-width="3.1"/><path d="M580.50 6.70C581.42 7.77 584.03 10.97 586.00 13.10C587.97 15.23 590.47 17.68 592.30 19.50C594.13 21.32 595.72 22.75 597.00 24.00C598.28 25.25 598.83 25.83 600.00 27.00C601.17 28.17 603.33 30.33 604.00 31.00" stroke="#c4c4c4" stroke-width="3.1"/><path d="M600.50 6.80C599.75 7.67 597.67 10.03 596.00 12.00C594.33 13.97 592.25 16.43 590.50 18.60C588.75 20.77 587.17 22.93 585.50 25.00C583.83 27.07 582.25 29.33 580.50 31.00C578.75 32.67 575.92 34.33 575.00 35.00" stroke="#c4c4c4" stroke-width="3.1"/><path d="M565.00 26.70C566.33 27.25 570.33 28.95 573.00 30.00C575.67 31.05 578.17 31.67 581.00 33.00C583.83 34.33 587.33 36.50 590.00 38.00C592.67 39.50 594.83 40.83 597.00 42.00C599.17 43.17 602.00 44.50 603.00 45.00" stroke="#c4c4c4" stroke-width="3.1"/><path d="M565.00 37.70C566.50 37.08 571.33 34.95 574.00 34.00C576.67 33.05 578.33 32.83 581.00 32.00C583.67 31.17 587.33 29.75 590.00 29.00C592.67 28.25 594.65 27.88 597.00 27.50C599.35 27.12 602.00 27.28 604.10 26.70C606.20 26.12 607.95 24.95 609.60 24.00C611.25 23.05 613.27 21.50 614.00 21.00" stroke="#c4c4c4" stroke-width="3.1"/><path d="M565.00 42.20C566.33 41.50 570.33 39.37 573.00 38.00C575.67 36.63 579.67 34.67 581.00 34.00" stroke="#c4c4c4" stroke-width="3.1"/><path d="M595.00 6.70C595.92 7.77 598.83 11.12 600.50 13.10C602.17 15.08 603.48 16.45 605.00 18.60C606.52 20.75 608.23 23.88 609.60 26.00C610.97 28.12 611.80 29.47 613.20 31.30C614.60 33.13 616.48 35.18 618.00 37.00C619.52 38.82 621.13 40.70 622.30 42.20C623.47 43.70 624.55 45.37 625.00 46.00" stroke="#c4c4c4" stroke-width="3.1"/><path d="M604.10 7.60C603.42 8.67 601.52 11.57 600.00 14.00C598.48 16.43 596.67 20.03 595.00 22.20C593.33 24.37 591.50 25.70 590.00 27.00C588.50 28.30 586.67 29.50 586.00 30.00" stroke="#c4c4c4" stroke-width="3.1"/><path d="M606.00 6.70C607.20 7.77 610.48 10.97 613.20 13.10C615.92 15.23 620.00 17.98 622.30 19.50C624.60 21.02 625.38 21.28 627.00 22.20C628.62 23.12 629.67 24.40 632.00 25.00C634.33 25.60 637.95 25.97 641.00 25.80C644.05 25.63 648.23 24.47 650.30 24.00C652.37 23.53 652.88 23.17 653.40 23.00" stroke="#c4c4c4" stroke-width="3.1"/><path d="M607.80 26.00C609.17 24.62 612.80 20.15 616.00 17.70C619.20 15.25 623.00 12.92 627.00 11.30C631.00 9.68 635.60 8.77 640.00 8.00C644.40 7.23 651.17 6.92 653.40 6.70" stroke="#c4c4c4" stroke-width="3.1"/><path d="M627.00 27.60C625.47 28.83 620.85 32.57 617.80 35.00C614.75 37.43 610.98 40.37 608.70 42.20C606.42 44.03 606.05 44.37 604.10 46.00C602.15 47.63 599.35 50.17 597.00 52.00C594.65 53.83 591.17 56.17 590.00 57.00" stroke="#c4c4c4" stroke-width="3.1"/><path d="M623.00 13.10C624.52 12.80 628.93 11.82 632.10 11.30C635.27 10.78 638.45 10.30 642.00 10.00C645.55 9.70 651.50 9.58 653.40 9.50" stroke="#c4c4c4" stroke-width="3.1"/><path d="M623.00 20.40C625.50 20.08 632.93 18.95 638.00 18.50C643.07 18.05 650.83 17.83 653.40 17.70" stroke="#c4c4c4" stroke-width="3.1"/><path d="M653.40 24.00C652.00 24.67 647.78 26.33 645.00 28.00C642.22 29.67 638.87 32.33 636.70 34.00C634.53 35.67 632.78 37.33 632.00 38.00" stroke="#c4c4c4" stroke-width="3.1"/><path d="M539.30 40.00C539.58 40.67 540.38 42.83 541.00 44.00C541.62 45.17 542.67 46.50 543.00 47.00" stroke="#c4c4c4" stroke-width="3.1"/></g>
<rect x="539.3" y="6.3" width="114.1" height="213.29999999999998" fill="none" stroke="#858585" stroke-width="1.3"/>
<line x1="538.7" x2="654.1" y1="6.3" y2="6.3" stroke="#3a3a3a" stroke-width="1.1"/>
<text x="535" y="223.11" text-anchor="end" font-size="9" font-family="Liberation Sans, sans-serif" fill="#000">-3</text>
<line x1="539" x2="543" y1="184.44" y2="184.44" stroke="#606060" stroke-width="0.9"/>
<line x1="649" x2="653" y1="184.44" y2="184.44" stroke="#606060" stroke-width="0.9"/>
<text x="535" y="187.44" text-anchor="end" font-size="9" font-family="Liberation Sans, sans-serif" fill="#000">-2</text>
<line x1="539" x2="543" y1="148.77" y2="148.77" stroke="#606060" stroke-width="0.9"/>
<line x1="649" x2="653" y1="148.77" y2="148.77" stroke="#606060" stroke-width="0.9"/>
<text x="535" y="151.77" text-anchor="end" font-size="9" font-family="Liberation Sans, sans-serif" fill="#000">-1</text>
<line x1="539" x2="543" y1="113.10" y2="113.10" stroke="#606060" stroke-width="0.9"/>
<line x1="649" x2="653" y1="113.10" y2="113.10" stroke="#606060" stroke-width="0.9"/>
<text x="535" y="116.10" text-anchor="end" font-size="9" font-family="Liberation Sans, sans-serif" fill="#000">0</text>
<line x1="539" x2="543" y1="77.43" y2="77.43" stroke="#606060" stroke-width="0.9"/>
<line x1="649" x2="653" y1="77.43" y2="77.43" stroke="#606060" stroke-width="0.9"/>
<text x="535" y="80.43" text-anchor="end" font-size="9" font-family="Liberation Sans, sans-serif" fill="#000">1</text>
<line x1="539" x2="543" y1="41.76" y2="41.76" stroke="#606060" stroke-width="0.9"/>
<line x1="649" x2="653" y1="41.76" y2="41.76" stroke="#606060" stroke-width="0.9"/>
<text x="535" y="44.76" text-anchor="end" font-size="9" font-family="Liberation Sans, sans-serif" fill="#000">2</text>
<text x="535" y="9.09" text-anchor="end" font-size="9" font-family="Liberation Sans, sans-serif" fill="#000">3</text>
<text transform="translate(522.0 112.7) rotate(-90)" text-anchor="middle" font-size="11.4" font-family="Liberation Sans, sans-serif" fill="#000">Energy (eV)</text>
<text x="513.6" y="236.8" font-size="13" font-family="Liberation Sans, sans-serif" fill="#000">(c)</text>
<text x="539.6" y="237.6" text-anchor="middle" font-size="15" font-family="Liberation Serif, serif" fill="#000">Γ</text>
<text x="581.0" y="236.6" text-anchor="middle" font-size="12.5" font-family="Liberation Sans, sans-serif" fill="#000">M</text>
<text x="605.5" y="236.6" text-anchor="middle" font-size="12.5" font-family="Liberation Sans, sans-serif" fill="#000">K</text>
<text x="653.8" y="237.6" text-anchor="middle" font-size="15" font-family="Liberation Serif, serif" fill="#000">Γ</text>
</svg>
</body></html>
